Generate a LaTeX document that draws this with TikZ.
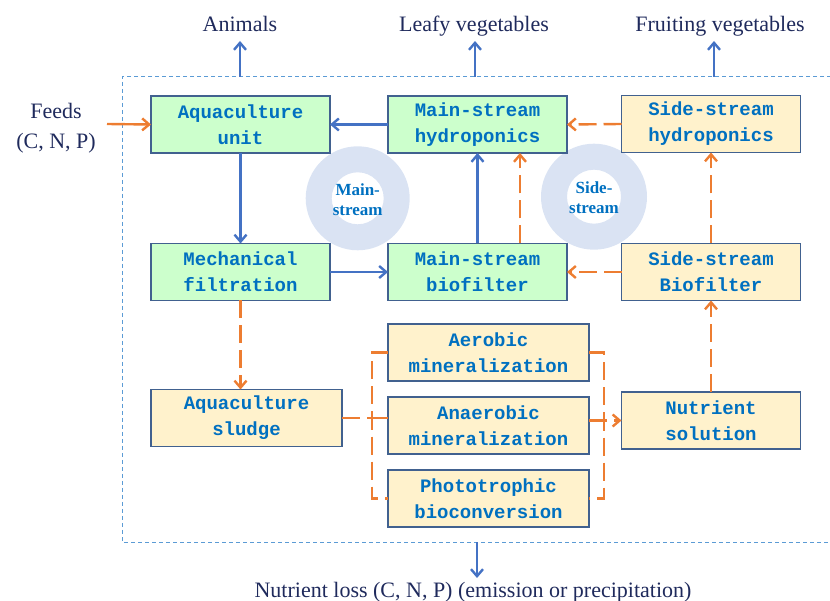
\documentclass[tikz,border=0pt]{standalone}
\usepackage{fontspec}
\setmainfont{Liberation Serif}
\newfontfamily\boxfont{Liberation Mono}
\definecolor{G}{HTML}{CCFFCC}
\definecolor{Y}{HTML}{FFF2CC}
\definecolor{edge}{HTML}{41618F}
\definecolor{label}{HTML}{0070C0}
\definecolor{navy}{HTML}{1F2A5C}
\definecolor{flow}{HTML}{4472C4}
\definecolor{side}{HTML}{ED7D31}
\definecolor{ring}{HTML}{DAE3F3}
\definecolor{frame}{HTML}{5B9BD5}
\usepackage{tikz}
\usetikzlibrary{arrows.meta}
\usetikzlibrary{positioning}
\tikzstyle{base}=[x=1pt, y=-1pt, inner sep=0pt, outer sep=0pt]
\tikzstyle{unitbox}=[draw=edge, line width=1.5pt, minimum width=179pt, minimum height=57pt, align=center, text=label, font=\boxfont\bfseries\fontsize{19}{26}\selectfont]
\tikzstyle{mainbox}=[unitbox, fill=G]
\tikzstyle{sidebox}=[unitbox, fill=Y]
\tikzstyle{outside}=[text=navy, font=\fontsize{22}{30}\selectfont, inner sep=3pt, text height=16pt, text depth=6pt]
\tikzstyle{loop}=[text=label, align=center, font=\bfseries\fontsize{17}{20}\selectfont]
\tikzstyle{mainflow}=[draw=flow, line width=2.4pt, -{Straight Barb[length=7pt,width=12pt]}]
\tikzstyle{sideflow}=[draw=side, line width=2.4pt, dash pattern=on 18pt off 7pt, -{Straight Barb[length=7pt,width=12pt]}]
\tikzstyle{sideline}=[draw=side, line width=2.4pt, dash pattern=on 18pt off 7pt]

\begin{document}
\begin{tikzpicture}[base]
    \path [use as bounding box] (0,0) rectangle (830,601);
    % the two loops
    \fill [ring, even odd rule] (357.7,198.3) circle (52pt) (357.7,198.3) circle (26pt);
    \fill [ring, even odd rule] (594,196.7) circle (53pt) (594,196.7) circle (27pt);
    \node [loop] (mainloop) at (357.7,199.5) {Main-\\stream};
    \node [loop] (sideloop) at (594,198) {Side-\\stream};

    \draw [frame, line width=1pt, dash pattern=on 4pt off 3pt] (831,77) -- (122,77) -- (122,542) -- (831,542);

    \node [mainbox] (unit) at (240.5,124.5) {Aquaculture\\unit};
    \node [mainbox] (mhydro) at (477.5,124.5) {Main-stream\\hydroponics};
    \node [sidebox] (shydro) at (711,124) {Side-stream\\hydroponics};
    \node [mainbox] (filter) at (240.5,272) {Mechanical\\filtration};
    \node [mainbox] (mbio) at (477.5,272) {Main-stream\\biofilter};
    \node [sidebox] (sbio) at (711,272) {Side-stream\\Biofilter};
    \node [sidebox, minimum width=191pt] (sludge) at (246.5,418) {Aquaculture\\sludge};
    \node [sidebox, minimum width=201pt] (aerobic) at (488.5,352.5) {Aerobic\\mineralization};
    \node [sidebox, minimum width=201pt] (anaerobic) at (488.5,425.5) {Anaerobic\\mineralization};
    \node [sidebox, minimum width=201pt] (photo) at (488.5,498.5) {Phototrophic\\bioconversion};
    \node [sidebox] (nutrient) at (711,420.5) {Nutrient\\solution};

    \node [outside, anchor=base] (animals) at (240,32) {Animals};
    \node [outside, anchor=base] (leafy) at (474,32) {Leafy vegetables};
    \node [outside, anchor=base] (fruit) at (720,32) {Fruiting vegetables};
    \node [outside, anchor=base] (loss) at (473,597) {Nutrient loss (C, N, P) (emission or precipitation)};
    \node [text=navy, align=center, font=\fontsize{22}{30}\selectfont] (feeds) at (56,128) {Feeds\\(C, N, P)};

    \coordinate (animalsout) at (240,77);
    \coordinate (leafyout) at (475,77);
    \coordinate (fruitout) at (714,77);
    \coordinate (lossout) at (477,542);
    \coordinate (feedin) at (107,124);
    \coordinate (bl) at (372,0);
    \coordinate (br) at (604,0);

    % products and losses
    \draw [mainflow] (animalsout) -- (animalsout |- animals.south);
    \draw [mainflow] (leafyout) -- (leafyout |- leafy.south);
    \draw [mainflow] (fruitout) -- (fruitout |- fruit.south);
    \draw [mainflow] (lossout) -- (lossout |- loss.north);
    \draw [draw=side, line width=2.4pt, -{Straight Barb[length=7pt,width=12pt]}] (feedin) -- (unit.west);

    % main stream
    \draw [mainflow] (mhydro.west) -- (unit.east);
    \draw [mainflow] (unit.south) -- (filter.north);
    \draw [mainflow] (filter.east) -- (mbio.west);
    \draw [mainflow] (mbio.north) -- (mhydro.south);

    % side stream
    \draw [sideflow] ([xshift=42.5pt]mbio.north) -- ([xshift=42.5pt]mhydro.south);
    \draw [sideflow] (shydro.west) -- (mhydro.east);
    \draw [sideflow] (sbio.west) -- (mbio.east);
    \draw [sideflow] (sbio.north) -- (shydro.south);
    \draw [sideflow] (nutrient.north) -- (sbio.south);
    \draw [sideflow] (filter.south) -- (filter.south |- sludge.north);
    \draw [sideline] (sludge.east) -- (sludge.east -| bl);
    \draw [sideline] (sludge.east -| bl) -- (sludge.east -| anaerobic.west);
    \draw [sideline] (aerobic.west) -- (aerobic.west -| bl) -- (photo.west -| bl) -- (photo.west);
    \draw [sideline] (aerobic.east) -- (aerobic.east -| br) -- (photo.east -| br) -- (photo.east);
    \draw [sideflow] (anaerobic.east |- nutrient.west) -- (nutrient.west);
\end{tikzpicture}
\end{document}
